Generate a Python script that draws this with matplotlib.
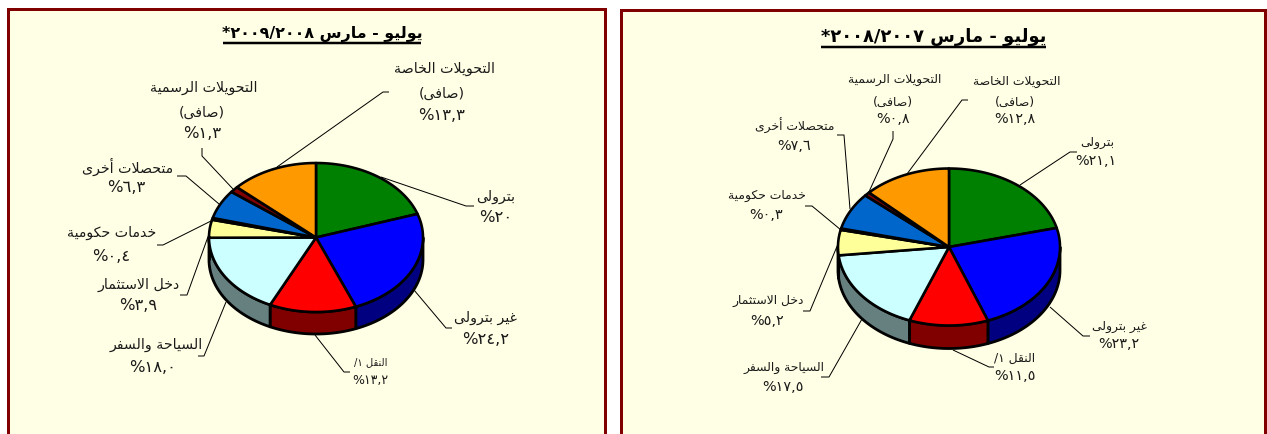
import matplotlib
matplotlib.use('Agg')
import matplotlib.pyplot as plt
from matplotlib.patches import Polygon, Rectangle
import numpy as np

# values, clockwise from 12 o'clock
cats = ['بترولى', 'غير بترولى', 'النقل ١/', 'السياحة والسفر', 'دخل الاستثمار',
        'خدمات حكومية', 'متحصلات أخرى', 'التحويلات الرسمية', 'التحويلات الخاصة']
vals_0809 = [20, 24.2, 13.2, 18.0, 3.9, 0.4, 6.3, 1.3, 13.3]
vals_0708 = [21.1, 23.2, 11.5, 17.5, 5.2, 0.3, 7.6, 0.8, 12.8]
pct_0809 = ['%٢٠', '%٢٤,٢', '%١٣,٢', '%١٨,٠', '%٣,٩', '%٠,٤', '%٦,٣', '%١,٣', '%١٣,٣']
pct_0708 = ['%٢١,١', '%٢٣,٢', '%١١,٥', '%١٧,٥', '%٥,٢', '%٠,٣', '%٧,٦', '%٠,٨', '%١٢,٨']
title_text = 'يوليو - مارس'
date_0809 = '*٢٠٠٩/٢٠٠٨'
date_0708 = '*٢٠٠٨/٢٠٠٧'
net_word = '(صافى)'

top_cols = ['#008000', '#0000FF', '#FF0000', '#CCFFFF', '#FFFF99', '#000000', '#0066CC', '#800000', '#FF9900']
side_cols = ['#004000', '#000080', '#800000', '#668080', '#80804D', '#000000', '#003366', '#400000', '#804D00']

# isolated, final, initial, medial; two forms only = does not join forward
forms = {
    'ا': 'ﺍﺎ', 'أ': 'ﺃﺄ', 'د': 'ﺩﺪ', 'ذ': 'ﺫﺬ', 'ر': 'ﺭﺮ', 'ز': 'ﺯﺰ', 'و': 'ﻭﻮ', 'ى': 'ﻯﻰ', 'ة': 'ﺓﺔ',
    'ب': 'ﺏﺐﺑﺒ', 'ت': 'ﺕﺖﺗﺘ', 'ث': 'ﺙﺚﺛﺜ', 'ح': 'ﺡﺢﺣﺤ', 'خ': 'ﺥﺦﺧﺨ', 'س': 'ﺱﺲﺳﺴ',
    'ص': 'ﺹﺺﺻﺼ', 'غ': 'ﻍﻎﻏﻐ', 'ف': 'ﻑﻒﻓﻔ', 'ق': 'ﻕﻖﻗﻘ', 'ك': 'ﻙﻚﻛﻜ', 'ل': 'ﻝﻞﻟﻠ',
    'م': 'ﻡﻢﻣﻤ', 'ن': 'ﻥﻦﻧﻨ', 'ه': 'ﻩﻪﻫﻬ', 'ي': 'ﻱﻲﻳﻴ',
}


def rtl(s):
    # matplotlib does no shaping or bidi, so give it visual order presentation forms
    out = []
    i = 0
    while i < len(s):
        c = s[i]
        if c not in forms:
            out.append({'(': ')', ')': '('}.get(c, c))
            i += 1
            continue
        joined = i > 0 and s[i-1] in forms and len(forms[s[i-1]]) == 4
        if c == 'ل' and i+1 < len(s) and s[i+1] == 'ا':
            out.append('ﻼ' if joined else 'ﻻ')
            i += 2
            continue
        nxt = i+1 < len(s) and s[i+1] in forms
        f = forms[c]
        if len(f) == 2:
            out.append(f[1] if joined else f[0])
        elif joined:
            out.append(f[3] if nxt else f[1])
        else:
            out.append(f[2] if nxt else f[0])
        i += 1
    return ''.join(out[::-1])


plt.rcParams['font.family'] = ['DejaVu Sans']
fig = plt.figure(figsize=(12.67, 4.35), dpi=100)
ax = fig.add_axes([0, 0, 1, 1])
ax.set_xlim(0, 1267)
ax.set_ylim(435, 0)
ax.axis('off')

px = 72/100


def pie(vals, cx, cy, rx, ry, depth):
    edges = np.cumsum([0] + vals) / sum(vals) * 2*np.pi
    ell = lambda t: (cx + rx*np.sin(t), cy - ry*np.cos(t))
    # side wall, only the front half shows
    for k, v in enumerate(vals):
        a, b = max(edges[k], np.pi/2), min(edges[k+1], 3*np.pi/2)
        if b <= a:
            continue
        t = np.linspace(a, b, 60)
        x, y = ell(t)
        pts = np.r_[np.c_[x, y], np.c_[x, y+depth][::-1]]
        ax.add_patch(Polygon(pts, fc=side_cols[k], ec='black', lw=2.8*px, joinstyle='round'))
    for k, v in enumerate(vals):
        t = np.linspace(edges[k], edges[k+1], 80)
        x, y = ell(t)
        pts = np.r_[[[cx, cy]], np.c_[x, y]]
        ax.add_patch(Polygon(pts, fc=top_cols[k], ec='black', lw=2.6*px, joinstyle='round'))


def label(x, y, s, size):
    ax.text(x, y, s, ha='center', va='center', fontsize=size, color='#1a1a1a')


def leaders(paths):
    for p in paths:
        p = np.array(p)
        ax.plot(p[:, 0], p[:, 1], color='black', lw=1.0*px, solid_capstyle='butt')


# panels
ax.add_patch(Rectangle((8, 9.5), 596.5, 440, fc='#FFFFE5', ec='#800000', lw=3*px))
ax.add_patch(Rectangle((620.5, 11), 644.5, 440, fc='#FFFFE5', ec='#800000', lw=3*px))

# titles
for tx, ty, uy, x0, x1, date, fs in [(322, 34, 44, 223, 421, date_0809, 11.4),
                                     (933.5, 37, 48, 821, 1046, date_0708, 12.9)]:
    ax.text(tx, ty, date + ' ' + rtl(title_text), ha='center', va='center', fontsize=fs, fontweight='bold', color='black')
    ax.plot([x0, x1], [uy, uy], color='black', lw=2.5*px, solid_capstyle='butt')

pie(vals_0809, 316, 238.5, 107, 74.5, 22)
pie(vals_0708, 949, 248, 111, 78.5, 23)

# label positions: (x, name y, pct y, pct x), same order as cats
pos_0809 = [(496, 197, 218, 496), (486, 318, 340, 486), (371, 362, 381, 370), (156, 345, 368, 153),
            (139, 285, 306, 138), (112, 233, 257, 111), (128, 167, 188, 126), (204, 88, 134, 202), (445, 69, 115, 442)]
pos_0708 = [(1097, 143, 161, 1096), (1119, 327, 344, 1119), (1015, 358, 376, 1015), (784, 368, 387, 783),
            (768, 301, 321, 767), (767, 196, 215, 766), (795, 126, 146, 794), (895, 80, 119, 893), (1017, 81, 119, 1015)]
net_0809 = {7: 113, 8: 94}
net_0708 = {7: 102, 8: 102}

for pos, pcts, net, name_fs, pct_fs in [(pos_0809, pct_0809, net_0809, 10.2, 11.8),
                                        (pos_0708, pct_0708, net_0708, 8.9, 10.4)]:
    for k, (x, y, py, pct_x) in enumerate(pos):
        small = pcts is pct_0809 and k == 2
        label(x, y, rtl(cats[k]), 7.2 if small else name_fs)
        label(pct_x, py, pcts[k], 9 if small else pct_fs)
        if k in net:
            label(pct_x, net[k], rtl(net_word), name_fs)

leaders([
    [(474, 207), (466, 207), (381, 178)],
    [(452, 329), (446, 329), (414, 291)],
    [(350, 373), (344, 373), (315, 336)],
    [(198, 357), (204, 357), (226, 303)],
    [(180, 296), (187, 296), (209, 235)],
    [(157, 246), (163, 246), (213, 221)],
    [(177, 177), (186, 177), (219, 205)],
    [(202, 149), (202, 157), (233, 190)],
    [(389, 93), (383, 93), (277, 168)],
    [(1077, 153), (1070, 153), (1020, 186)],
    [(1090, 337), (1083, 337), (1050, 308)],
    [(994, 368), (989, 368), (953, 351)],
    [(821, 378), (829, 378), (862, 320)],
    [(803, 312), (810, 312), (838, 245)],
    [(805, 207), (812, 207), (841, 231)],
    [(837, 136), (844, 136), (850, 210)],
    [(893, 132), (893, 140), (868, 195)],
    [(968, 101), (962, 101), (907, 175)],
])

fig.savefig('out.png', dpi=100)
